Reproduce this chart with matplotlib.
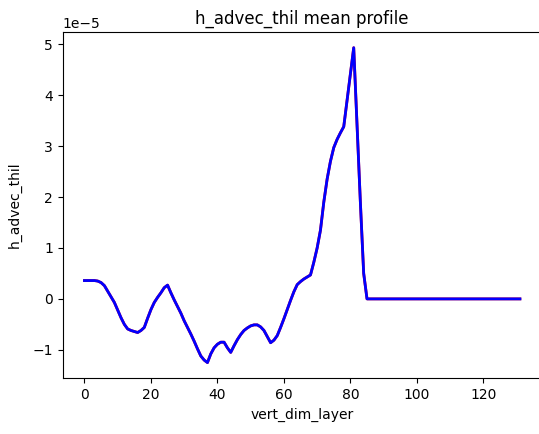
import numpy as np
import matplotlib
matplotlib.use("Agg")
import matplotlib.pyplot as plt

# mean profile values (x 1e-5), layers 0..85, zero above
profile_top = [0.36, 0.36, 0.36, 0.36, 0.35, 0.32, 0.26, 0.15, 0.04, -0.07,
               -0.22, -0.37, -0.50, -0.59, -0.62, -0.64, -0.66, -0.62, -0.56, -0.38,
               -0.21, -0.07, 0.03, 0.12, 0.22, 0.27, 0.12, -0.02, -0.15, -0.28,
               -0.43, -0.56, -0.69, -0.83, -0.98, -1.12, -1.20, -1.25, -1.08, -0.96,
               -0.89, -0.85, -0.85, -0.96, -1.05, -0.92, -0.80, -0.70, -0.62, -0.57,
               -0.53, -0.51, -0.51, -0.55, -0.62, -0.74, -0.86, -0.81, -0.72, -0.56,
               -0.39, -0.21, -0.03, 0.14, 0.28, 0.34, 0.39, 0.43, 0.47, 0.72,
               1.00, 1.35, 1.90, 2.35, 2.70, 2.97, 3.13, 3.26, 3.38, 3.90,
               4.42, 4.93, 3.40, 1.90, 0.50, 0.00]
profile_rest = [0.0, 0.0, 0.0, 0.0, 0.0, 0.0, 0.0, 0.0, 0.0, 0.0,
                0.0, 0.0, 0.0, 0.0, 0.0, 0.0, 0.0, 0.0, 0.0, 0.0,
                0.0, 0.0, 0.0, 0.0, 0.0, 0.0, 0.0, 0.0, 0.0, 0.0,
                0.0, 0.0, 0.0, 0.0, 0.0, 0.0, 0.0, 0.0, 0.0, 0.0,
                0.0, 0.0, 0.0, 0.0, 0.0, 0.0]

values = np.array(profile_top + profile_rest) * 1e-5
layers = np.arange(len(values))

fig = plt.figure(figsize=(5.39, 4.34), dpi=100)
ax = fig.add_axes([0.1163, 0.1283, 0.8887, 0.798])
ax.plot(layers, values, color='red', lw=2)
ax.plot(layers, values, color='blue', lw=2)
ax.set_title('h_advec_thil mean profile')
ax.set_xlabel('vert_dim_layer')
ax.set_ylabel('h_advec_thil', labelpad=8)

fig.savefig('out.png', dpi=100)
